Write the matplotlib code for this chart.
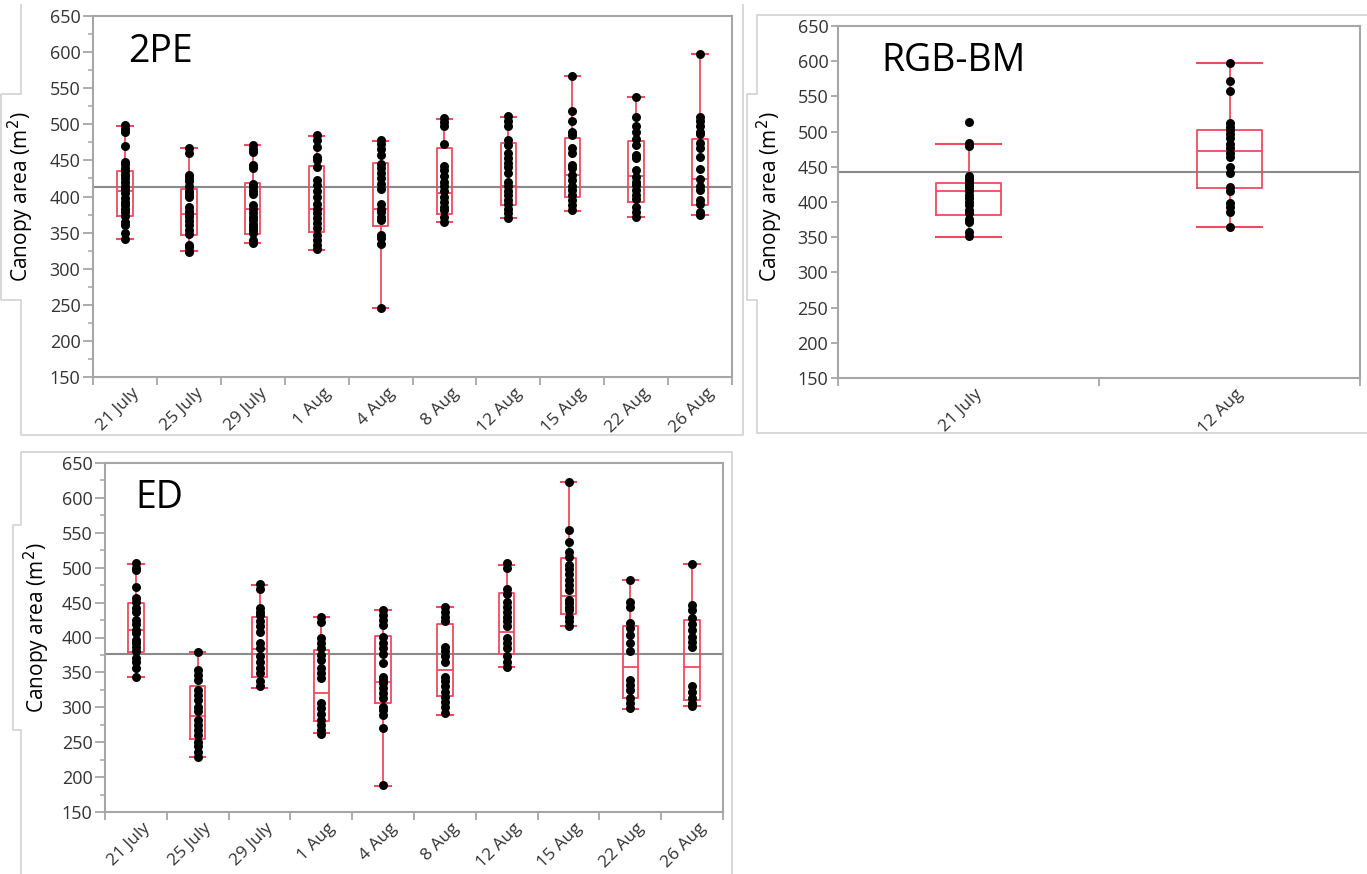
import numpy as np
import matplotlib.pyplot as plt
import matplotlib.transforms as mtransforms
from matplotlib.lines import Line2D
from matplotlib.ticker import MultipleLocator, FixedLocator, NullFormatter

plt.rcParams['font.family'] = ['Open Sans', 'DejaVu Sans']

# ---- 2PE ----
dates_2pe = ['21 July', '25 July', '29 July', '1 Aug', '4 Aug', '8 Aug', '12 Aug', '15 Aug', '22 Aug', '26 Aug']
pts_2pe = [
    [499, 493, 490, 470, 448, 445, 440, 436, 430, 425, 420, 415, 410, 405, 398, 393, 388, 383, 378, 373, 365, 360, 349, 341],
    [467, 460, 430, 426, 421, 415, 408, 403, 399, 386, 380, 376, 371, 366, 360, 353, 348, 333, 330, 325, 323],
    [471, 466, 462, 444, 439, 418, 413, 408, 404, 388, 382, 377, 372, 367, 362, 358, 353, 349, 340, 336],
    [485, 478, 469, 455, 450, 441, 423, 416, 407, 400, 390, 383, 377, 370, 363, 356, 347, 340, 333, 327],
    [478, 473, 466, 458, 445, 440, 432, 425, 418, 410, 390, 383, 378, 372, 367, 347, 343, 334, 245],
    [509, 503, 497, 473, 442, 437, 428, 420, 414, 407, 400, 393, 386, 381, 372, 365],
    [511, 505, 497, 478, 472, 460, 453, 446, 441, 433, 420, 414, 407, 402, 395, 390, 383, 377, 370],
    [567, 519, 505, 490, 485, 467, 460, 444, 439, 430, 423, 414, 409, 402, 395, 388, 381],
    [538, 510, 497, 490, 480, 471, 457, 453, 437, 427, 420, 416, 409, 402, 397, 386, 379, 372],
    [598, 510, 504, 497, 490, 486, 474, 467, 455, 438, 424, 414, 409, 395, 390, 379, 374],
]
hi_2pe = [498, 467, 471, 484, 477, 507, 510, 567, 538, 598]
q3_2pe = [436, 411, 419, 442, 446, 467, 474, 481, 477, 480]
med_2pe = [407, 376, 382, 382, 382, 405, 414, 430, 428, 424]
q1_2pe = [373, 346, 348, 351, 359, 376, 388, 399, 392, 388]
lo_2pe = [341, 324, 336, 326, 245, 364, 370, 380, 372, 374]
mean_2pe = 413

# ---- RGB-BM ----
dates_rgb = ['21 July', '12 Aug']
pts_rgb = [
    [513, 484, 479, 437, 433, 429, 424, 420, 415, 410, 406, 400, 396, 388, 384, 376, 372, 358, 352],
    [598, 572, 558, 512, 507, 502, 497, 491, 483, 476, 469, 464, 450, 441, 421, 416, 398, 393, 386, 365],
]
hi_rgb = [483, 598]
q3_rgb = [427, 502]
med_rgb = [415, 473]
q1_rgb = [382, 420]
lo_rgb = [350, 365]
mean_rgb = 442

# ---- ED ----
dates_ed = dates_2pe
pts_ed = [
    [507, 499, 496, 473, 456, 451, 442, 437, 425, 420, 411, 406, 396, 392, 387, 380, 370, 365, 356, 344],
    [379, 353, 346, 339, 325, 318, 311, 301, 294, 282, 275, 268, 260, 251, 244, 236, 229],
    [476, 469, 442, 437, 432, 423, 416, 408, 392, 385, 373, 365, 356, 349, 337, 330],
    [430, 422, 399, 392, 385, 375, 368, 356, 349, 342, 306, 299, 291, 282, 275, 268, 262],
    [440, 432, 425, 418, 401, 392, 385, 377, 363, 344, 339, 335, 327, 320, 313, 301, 296, 289, 270, 188],
    [444, 437, 430, 423, 387, 380, 373, 365, 344, 337, 330, 322, 315, 308, 301, 292],
    [507, 500, 470, 463, 451, 444, 437, 430, 423, 416, 399, 392, 385, 373, 365, 358],
    [623, 554, 537, 522, 516, 504, 498, 491, 482, 475, 468, 454, 449, 444, 439, 430, 423, 417],
    [482, 451, 444, 421, 413, 404, 392, 380, 339, 332, 325, 313, 306, 299],
    [506, 447, 439, 428, 420, 411, 401, 394, 387, 330, 322, 313, 306, 302],
]
hi_ed = [506, 379, 475, 429, 439, 444, 504, 623, 482, 506]
q3_ed = [450, 330, 429, 382, 402, 419, 464, 514, 417, 425]
med_ed = [411, 288, 384, 321, 336, 354, 408, 460, 358, 358]
q1_ed = [379, 254, 344, 281, 306, 316, 377, 433, 314, 310]
lo_ed = [344, 229, 327, 263, 187, 289, 358, 417, 298, 302]
mean_ed = 377

RED = '#ee4a60'
GRID = '#a6a6a6'

W, H = 1367, 874
fig = plt.figure(figsize=(W / 100, H / 100), dpi=100)


def px_axes(l, t, r, b):
    return fig.add_axes([l / W, 1 - b / H, (r - l) / W, (b - t) / H])


def draw_panel(ax, labels, pts, lo, q1, med, q3, hi, mean, title, width, minor, ylen):
    n = len(labels)
    stats = []
    for i in range(n):
        stats.append(dict(med=med[i], q1=q1[i], q3=q3[i], whislo=lo[i], whishi=hi[i], fliers=[]))
    ax.bxp(stats, positions=np.arange(1, n + 1), widths=width, capwidths=width,
           showfliers=False, manage_ticks=False,
           boxprops=dict(color=RED, lw=1.3), medianprops=dict(color=RED, lw=1.3),
           whiskerprops=dict(color=RED, lw=1.3), capprops=dict(color=RED, lw=1.5))
    for i, p in enumerate(pts):
        ax.scatter(np.full(len(p), i + 1), p, s=42, color='black', zorder=3, lw=0)
    ax.axhline(mean, color='#8a8a8a', lw=1.5, zorder=1)

    ax.set_xlim(0.5, n + 0.5)
    ax.set_ylim(150, 650)
    ax.yaxis.set_major_locator(MultipleLocator(50))
    if minor:
        ax.yaxis.set_minor_locator(MultipleLocator(25))
    ax.xaxis.set_major_locator(FixedLocator(np.arange(0.5, n + 1)))
    ax.xaxis.set_major_formatter(NullFormatter())
    ax.xaxis.set_minor_locator(FixedLocator(np.arange(1, n + 1)))
    ax.set_xticklabels(labels, minor=True, rotation=45, ha='right', rotation_mode='anchor', fontsize=12.5)
    ax.tick_params(axis='x', which='major', length=6, color=GRID, width=1.3)
    ax.tick_params(axis='x', which='minor', length=0, pad=6)
    ax.tick_params(axis='y', which='major', length=ylen, color=GRID, width=1.3, labelsize=13,
                   labelcolor='#333333', pad=2)
    ax.tick_params(axis='y', which='minor', length=ylen * 0.55, color=GRID, width=1.1)
    off = mtransforms.ScaledTranslation(6 / 100, 0, fig.dpi_scale_trans)
    for lab in ax.xaxis.get_minorticklabels():
        lab.set_transform(lab.get_transform() + off)
        lab.set_color('#333333')
    for s in ax.spines.values():
        s.set_color(GRID)
        s.set_linewidth(1.5)
    ax.text(0.055, 0.9, title, transform=ax.transAxes, fontsize=27, va='center', ha='left')


ax1 = px_axes(93, 16, 732, 377)
draw_panel(ax1, dates_2pe, pts_2pe, lo_2pe, q1_2pe, med_2pe, q3_2pe, hi_2pe, mean_2pe,
           '2PE', 0.24, True, 7)

ax2 = px_axes(838, 26, 1360, 378)
draw_panel(ax2, dates_rgb, pts_rgb, lo_rgb, q1_rgb, med_rgb, q3_rgb, hi_rgb, mean_rgb,
           'RGB-BM', 0.25, False, 5)
ax2.texts[0].set_position((0.084, 0.9))

ax3 = px_axes(105, 463, 723, 812)
draw_panel(ax3, dates_ed, pts_ed, lo_ed, q1_ed, med_ed, q3_ed, hi_ed, mean_ed,
           'ED', 0.25, True, 7)
ax3.texts[0].set_position((0.049, 0.9))

# y labels
ylab = 'Canopy area (m$^2$)'
for x, y in [(21, 197), (770, 197), (37, 628)]:
    fig.text(x / W, 1 - y / H, ylab, rotation=90, ha='center', va='center', fontsize=15)

# panel frames (JMP style)
FR = '#d2d2d2'


def frame(pts):
    xs = [p[0] / W for p in pts]
    ys = [1 - p[1] / H for p in pts]
    fig.add_artist(Line2D(xs, ys, color=FR, lw=1.2, transform=fig.transFigure))


frame([(21, 5), (21, 94), (1, 94), (1, 300), (21, 300), (21, 435), (743, 435), (743, 5)])
frame([(1367, 15), (757, 15), (757, 94), (747, 94), (747, 300), (757, 300), (757, 433), (1367, 433)])
frame([(21, 874), (21, 730), (13, 730), (13, 525), (21, 525), (21, 452), (732, 452), (732, 874)])

fig.savefig('out.png', dpi=100)
